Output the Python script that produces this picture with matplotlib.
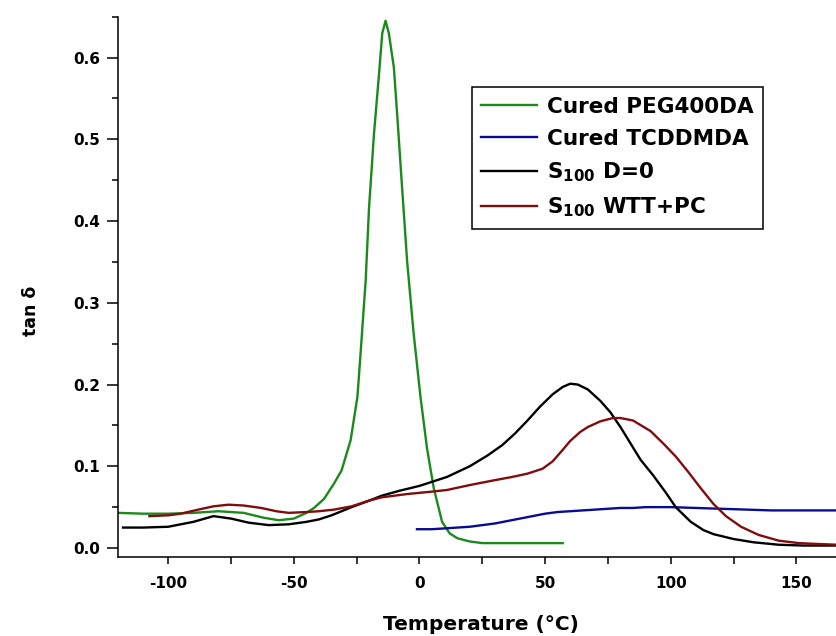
import matplotlib
matplotlib.use("Agg")
import matplotlib.pyplot as plt
from matplotlib.ticker import MultipleLocator, FormatStrFormatter

plt.rcParams['font.family'] = ['DejaVu Sans']
plt.rcParams['font.weight'] = 'bold'
plt.rcParams['mathtext.default'] = 'bf'
plt.rcParams['axes.unicode_minus'] = False

# ---- data ----
peg_T = [-120, -110, -100, -90, -80, -70, -62, -56, -50, -45, -42, -38, -34, -31, -27.4,
         -24.7, -23.4, -21.4, -20.1, -18.1, -16.1, -14.8, -13.5, -12.2, -10.2, -8.8,
         -6.9, -4.9, -2.3, 0.4, 3, 5.7, 9, 12, 15, 20, 25, 35, 45, 57]
peg_v = [0.043, 0.042, 0.042, 0.043, 0.045, 0.043, 0.037, 0.034, 0.036, 0.043, 0.049,
         0.060, 0.079, 0.095, 0.132, 0.185, 0.240, 0.328, 0.415, 0.507, 0.580, 0.630,
         0.645, 0.630, 0.588, 0.527, 0.440, 0.350, 0.262, 0.185, 0.122, 0.073, 0.032,
         0.018, 0.012, 0.008, 0.006, 0.006, 0.006, 0.006]

tcd_T = [-1, 5, 10, 15, 20, 25, 30, 35, 40, 45, 50, 55, 60, 65, 70, 75, 80, 85, 90, 95,
         100, 110, 120, 130, 140, 150, 166]
tcd_v = [0.023, 0.023, 0.024, 0.025, 0.026, 0.028, 0.030, 0.033, 0.036, 0.039, 0.042,
         0.044, 0.045, 0.046, 0.047, 0.048, 0.049, 0.049, 0.050, 0.050, 0.050, 0.049,
         0.048, 0.047, 0.046, 0.046, 0.046]

d0_T = [-118, -110, -100, -90, -82, -75, -68, -60, -52, -45, -40, -35, -27, -20, -15, -8,
        0, 5, 11, 20, 27, 33, 38, 43, 48, 53, 57, 60, 63, 67, 72, 76, 80, 84, 88, 93, 98,
        102, 108, 113, 117, 125, 133, 143, 153, 166]
d0_v = [0.025, 0.025, 0.026, 0.032, 0.039, 0.036, 0.031, 0.028, 0.029, 0.032, 0.035,
        0.040, 0.050, 0.058, 0.064, 0.070, 0.076, 0.081, 0.087, 0.100, 0.113, 0.126,
        0.140, 0.156, 0.173, 0.188, 0.197, 0.201, 0.200, 0.194, 0.180, 0.166, 0.148,
        0.128, 0.108, 0.089, 0.068, 0.050, 0.032, 0.022, 0.017, 0.011, 0.007, 0.004,
        0.003, 0.003]

wtt_T = [-107.5, -100, -95, -88, -82, -76, -70, -63, -57, -52, -45, -40, -34, -27, -20,
         -15, -5, 5, 11, 20, 30, 37, 43, 49, 53, 57, 60, 64, 67, 72, 77, 80, 85, 92, 97,
         102, 107, 112, 117, 122, 128, 135, 143, 151, 158, 166]
wtt_v = [0.039, 0.040, 0.042, 0.047, 0.051, 0.053, 0.052, 0.049, 0.045, 0.043, 0.044,
         0.045, 0.047, 0.051, 0.058, 0.062, 0.066, 0.069, 0.071, 0.077, 0.083, 0.087,
         0.091, 0.097, 0.106, 0.120, 0.131, 0.142, 0.148, 0.155, 0.159, 0.159, 0.156,
         0.143, 0.128, 0.112, 0.093, 0.073, 0.054, 0.039, 0.026, 0.016, 0.009, 0.006,
         0.005, 0.004]

labels = ['Cured PEG400DA', 'Cured TCDDMDA', r'$\mathbf{S_{100}}$ D=0', r'$\mathbf{S_{100}}$ WTT+PC']
x_ticks = [-100, -50, 0, 50, 100, 150]
y_ticks = [0.0, 0.1, 0.2, 0.3, 0.4, 0.5, 0.6]

# ---- figure ----
W, H = 836, 636
fig = plt.figure(figsize=(W / 100, H / 100), dpi=100)
left, right, bottom, top = 118, 836, 557, 16.7
ax = fig.add_axes([left / W, (H - bottom) / H, (right - left) / W, (bottom - top) / H])

ax.plot(peg_T, peg_v, color='#1b8a1b', lw=1.7, label=labels[0])
ax.plot(tcd_T, tcd_v, color='#0a0a96', lw=1.7, label=labels[1])
ax.plot(d0_T, d0_v, color='black', lw=1.7, label=labels[2])
ax.plot(wtt_T, wtt_v, color='#800d0d', lw=1.7, label=labels[3])

ax.set_xlim(-120, 165.8)
ax.set_ylim(-0.011, 0.65)
ax.set_xticks(x_ticks)
ax.set_yticks(y_ticks)
ax.xaxis.set_minor_locator(MultipleLocator(25))
ax.yaxis.set_minor_locator(MultipleLocator(0.05))
ax.yaxis.set_major_formatter(FormatStrFormatter('%.1f'))
ax.spines['top'].set_visible(False)
ax.spines['right'].set_visible(False)
for s in ['left', 'bottom']:
    ax.spines[s].set_linewidth(1.1)
ax.tick_params(axis='both', which='major', direction='out', width=1.1, labelsize=11)
ax.tick_params(axis='y', which='major', length=8, pad=5)
ax.tick_params(axis='y', which='minor', length=4.5, width=1.1)
ax.tick_params(axis='x', which='major', length=5, pad=9)
ax.tick_params(axis='x', which='minor', length=5, width=1.1)
for lab in ax.get_xticklabels() + ax.get_yticklabels():
    lab.set_fontweight('bold')

fig.text(481 / W, 1 - 625 / H, 'Temperature (°C)', ha='center', va='center',
         fontsize=14.5, fontweight='bold')
fig.text(31 / W, 1 - 311 / H, 'tan δ', ha='center', va='center', rotation=90,
         fontsize=12.5, fontweight='bold')

leg = ax.legend(loc='upper left', bbox_to_anchor=(471.7 / W, 1 - 87 / H),
                bbox_transform=fig.transFigure, borderaxespad=0, fancybox=False,
                framealpha=1, edgecolor='black', prop={'weight': 'bold', 'size': 15.5},
                handlelength=2.6, handletextpad=0.45, labelspacing=0.55,
                borderpad=0.45)
leg.get_frame().set_linewidth(1.1)

fig.savefig('out.png', dpi=100)
